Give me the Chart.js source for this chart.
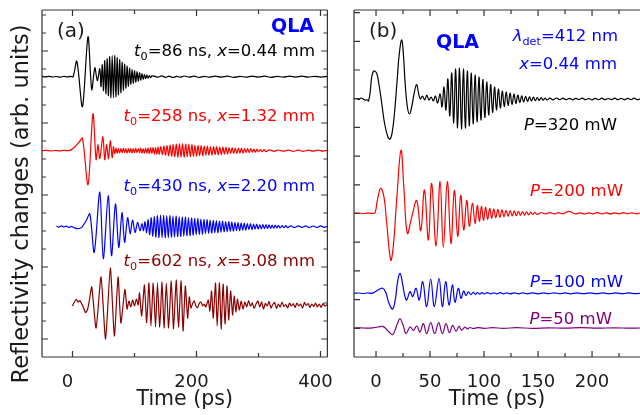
<!DOCTYPE html>
<html>
<head>
<meta charset="UTF-8">
<title>QLA reflectivity changes</title>
<script src="https://cdn.jsdelivr.net/npm/chart.js"></script>
<style>
  body { margin: 0; background: #fff; }
  #wrap { position: relative; width: 640px; height: 415px; overflow: hidden; }
  canvas { position: absolute; top: 0; }
</style>
</head>
<body>
<div id="wrap">
  <canvas id="chartA" width="345" height="415" style="left:0"></canvas>
  <canvas id="chartB" width="300" height="415" style="left:340px"></canvas>
</div>
<script>
// ---- panel (a): [time (ps), signal] per position, signals offset for display
const traceA86 = [[-49.2,0.3],[-44,-0.2],[-38,0.4],[-32,-0.3],[-26,0.2],[-20,-0.4],[-14,0.3],[-8,-0.2],[-3,0.3],[1,0],[7,15.5],[16,-30],[25,40],[31,-13],[36,9],[40,-4],
  [44,8],[46,-10],[48,12],[50,-14],[52,16],[54,-17],[56,18],[58,-19],[60,20],[62,-21],[64,21],[66,-21],[68,21],[70,-20],[72,19],[74,-18],[76,17],[78,-16],[80,14.5],[82,-13.5],[84,12.5],[86,-11.5],[88,10.5],[90,-9.5],[92,8.5],[94,-7.5],[96,7],[98,-6.5],[100,6],[102,-5.5],[104,5],[106,-4.5],[108,4],[110,-3.5],[112,3],[114,-2.6],[116,2.2],[118,-2],[120,1.6],[122,-1.4],[124,1.2],[126,-1],[128,0.8],
  [132,0.6],[138,-0.5],[144,0.8],[150,-0.6],[156,0.5],[162,-0.8],[168,0.4],[174,-0.5],[180,0.7],[188,-0.4],[196,0.6],[204,-0.7],[212,0.4],[220,-0.5],[230,0.6],[240,-0.4],[250,0.5],[260,-0.6],[270,0.4],[280,-0.5],[290,0.6],[300,-0.4],[310,0.5],[320,-0.6],[330,0.4],[340,-0.5],[350,0.5],[360,-0.4],[370,0.5],[380,-0.5],[390,0.4],[400,-0.4],[411.1,0.3]];

const traceA258 = [[-49.2,0],[-42,0.3],[-35,-0.3],[-28,0.2],[-21,-0.2],[-14,0.3],[-8,0],[-4,0.3],[4,4],[10,8],[16,12.5],[25,-34],[33,37],[38,-9],[41,6],[44,-8],[49,14],[52,-9],[55,6],[58,-8],[61,10],[64,-7],[66,4],
  [68,-3],[70,2.5],[72,-2.5],[74,2],[76,-2.5],[78,2],[80,-2],[82,2.5],[84,-2],[86,2],[88,-2.5],[90,2],[92,-2],[94,2],[96,-2.5],[98,2],[100,-2],[102,2.5],[104,-2],[106,2],[108,-2],[110,2.5],[112,-2.5],[114,2],[116,-2.5],[118,2.5],[120,-2.5],[122,2.5],[124,-3],[126,3],[128,-3],[130,3],[132,-3.5],[134,3],[136,-3.5],[138,3.5],[140,-3.5],
  [142.5,4],[145,-4],[147.5,4.5],[150,-4.5],[152.5,5],[155,-5],[157.5,5.5],[160,-5.5],[162.5,6],[165,-6],[167.5,6.5],[170,-6.5],[172.5,7],[175,-6.5],[177.5,7],[180,-6.5],[182.5,6.5],[185,-6],[187.5,6.5],[190,-6],[192.5,6],[195,-5.5],[197.5,5.5],[200,-5.5],[202.5,5],[205,-5],[207.5,5],[210,-5],[212.5,4.5],[215,-4.5],[217.5,4.5],[220,-4.5],[222.5,4],[225,-4.5],[227.5,4],[230,-4],[232.5,4],[235,-4],[237.5,3.5],[240,-4],[242.5,3.5],[245,-3.5],[247.5,3.5],[250,-3.5],[252.5,3],[255,-3],[257.5,3],[260,-3],[262.5,2.5],[265,-3],[267.5,2.5],[270,-2.5],[272.5,2.5],[275,-2.5],[277.5,2],[280,-2],[282.5,2],[285,-2],[287.5,2],[290,-1.5],[292.5,1.5],[295,-1.5],[297.5,1.5],[300,-1.2],[303,1.2],[306,-1],[309,1],[312,-1],
  [318,0.8],[325,-0.6],[332,0.7],[340,-0.5],[348,0.6],[356,-0.6],[364,0.5],[372,-0.6],[380,0.5],[388,-0.5],[396,0.6],[404,-0.4],[411.1,0.3]];

const traceA430 = [[-26,0.5],[-22,-0.5],[-18,0.8],[-14,-0.3],[-10,0.6],[-6,-0.8],[-2,0.3],[2,-0.8],[8,-2],[14,-1],[18,2],[22,6],[28,12.7],[35,-25.7],[44,34.6],[49.7,-32],[57.6,31],[62.9,-29],[69.3,22.7],[74.6,-20.7],[79.9,14],[84,-15.7],[88.9,9],[93,-7],[96.8,6.7],[101,-5.7],[105,4.3],[109,-4],
  [112,3],[114.5,-4],[117,5],[119.5,-6],[122,7],[124.5,-8],[127,9],[129.5,-9.5],[132,10],[134.5,-10.5],[137,11],[139.5,-11],[142,11.5],[144.5,-11],[147,11.5],[149.5,-11],[152,11],[154.5,-11],[157,11],[159.5,-10.5],[162,10.5],[164.5,-10.5],[167,10.5],[169.5,-10],[172,10],[174.5,-10],[177,9.5],[179.5,-9.5],[182,9.5],[184.5,-9],[187,9],[189.5,-9],[192,8.5],[194.5,-8.5],[197,8],[199.5,-8],[202,8],[204.5,-7.5],[207,7.5],[209.5,-7.5],[212,7],[214.5,-7],[217,7],[219.5,-6.5],[222,6.5],[224.5,-6.5],[227,6],[229.5,-6],[232,6],[234.5,-6],[237,5.5],[239.5,-5.5],[242,5.5],[244.5,-5],[247,5],[249.5,-5],[252,5],[254.5,-4.5],[257,4.5],[259.5,-4.5],[262,4],[264.5,-4],[267,4],[269.5,-4],[272,3.5],[274.5,-3.5],[277,3.5],[279.5,-3.5],[282,3],[284.5,-3],[287,3],[289.5,-3],[292,2.5],[294.5,-2.5],[297,2.5],[299.5,-2.5],[302,2.2],[304.5,-2.2],[307,2],[309.5,-2],[312,2],[314.5,-1.8],[317,1.8],[319.5,-1.6],[322,1.6],[324.5,-1.5],[327,1.5],[329.5,-1.4],[332,1.3],[335,-1.2],[338,1.2],[341,-1],[344,1],[347,-1],
  [352,0.8],[358,-0.8],[364,0.9],[370,-0.7],[376,0.8],[382,-0.8],[388,0.7],[394,-0.8],[400,0.8],[406,-0.6],[411.1,0.5]];

const traceA602 = [[0,-1],[3,3],[6,5.7],[9,3],[12,4.5],[15,1],[18,-3],[21,-7.7],[24,-5],[27,4],[31,18],[38,-23],[46,28],[53.3,-34],[61,37],[67.5,-31],[73.5,28],[78,-18],[84.5,15.5],[88,-4],[91,4],[94,-2],[97,5],[100,-1],[103,6],[106,0],
  [108,12],[111.6,-11],[116,20],[119.6,-17.7],[123.3,22],[126.5,-21],[130.2,22],[133.9,-22],[137,22],[140.7,-22],[144.4,23],[147.6,-23],[151.3,22],[155,-23],[159.3,24],[163,-24],[167.2,25],[170.9,-22],[175.1,24],[178.3,-26],[182,19],[185.7,-13],[188.4,8],
  [191,-3],[194,2],[196.5,4],[199,-1],[201.5,-3],[204,1],[207,3],[210,-1],[212.5,1],[215,-2],
  [219,5],[221.5,-6],[224.3,14],[227,-13],[230.7,22],[233.3,-21],[237,22],[239.7,-24],[242.9,21],[246,-19],[249.2,19],[251.9,-15],[255,14],[258.2,-10],[260.8,9],[263.5,-7],[266,6],[269,-5],[272,4],[275,-4],
  [278,3],[281,-2],[284,4.5],[287,-1],[290,2],[293,-3.5],[296,1],[299,4],[302,-2],[305,3],[308,-4],[311,1.5],[314,-1],[317,3.5],[320,-3],[323,0.5],[326,2.5],[329,-3.5],[332,1],[335,-2],[338,3],[341,-1.5],[344,0.5],[347,-3],[350,2],[353,-1],[356,1.5],[359,-2.5],[362,2],[365,-1],[368,1],[371,-3],[374,2.5],[377,-0.5],[380,1.5],[383,-2.5],[386,1],[389,-1.5],[392,2],[395,-2],[398,1],[401,-2.5],[404,1.5],[407,-1],[411.1,0.5]];

const offsetsA = [280.3, 206.3, 130.3, 52];

// ---- panel (b): [time (ps), signal] per pump power
const traceB320 = [[-20.4,0],[-18,0.5],[-16,-0.5],[-14,1],[-12,0],[-10,-1],[-8,-1],[-7,-2],[-5.5,6],[-4,22],[-2,28],[0.5,26],[2.5,16],[5,-2],[8,-25],[11,-38],[13,-40],[15,-33],[17,-15],[19.5,18],[21.5,45],[23.8,59],[25.5,42],[27,15],[29,-8],[31,-15],[33,-8],[35,4],[37.5,14.5],[39.5,5],[41,0],
  [43,3],[45,-1],[47,4],[49,-1],[51,2],[53,-2],[55,3],[57,-4],
  [59.3,5],[61.1,-8],[62.9,12],[64.7,-11],[66.5,20],[68.3,-17],[70.1,26],[71.9,-24],[73.7,30],[75.5,-29],[77.3,31],[79.1,-30],[80.9,30],[82.7,-29],[84.5,28],[86.3,-27],[88.1,26],[89.9,-25],[91.7,24],[93.5,-23],[95.3,22],[97.1,-21],[98.9,19.5],[100.7,-18.5],[102.5,17],[104.3,-16],[106.1,14.5],[107.9,-13.5],[109.7,12],[111.5,-11],[113.3,10],[115.1,-9],[116.9,8],[118.7,-7.5],[120.5,7],[122.3,-6.5],[124.1,6],[125.9,-5.5],[127.7,5],[129.5,-4.5],[131.3,4],[133.1,-3.5],[134.9,3.2],[136.7,-3],[138.5,2.7],[140.3,-2.5],[142.1,2.2],[143.9,-2],[145.7,1.8],[147.5,-1.7],[149.3,1.5],[151.1,-1.4],[152.9,1.3],[154.7,-1.2],[156.5,1],[158.3,-1],
  [161,0.8],[164,-0.8],[167,1],[170,-0.6],[173,0.8],[176,-0.7],[179,0.6],[182,-0.8],[185,0.7],[188,-0.5],[191,0.8],[194,-0.7],[197,0.5],[200,-0.8],[203,0.7],[206,-0.6],[209,0.8],[212,-0.7],[215,0.5],[218,-0.6],[221,0.8],[224,-0.7],[227,0.6],[230,-0.8],[233,0.7],[236,-0.6],[239,0.8],[242,-0.7],[244.4,0.3]];

const traceB200 = [[-20.4,0],[-16,0.3],[-12,-0.2],[-8,0.2],[-4,0],[-1,0.5],[1.2,13],[4.3,25],[7.4,16],[9.9,-10],[13.6,-46.7],[16,-33],[19.1,13],[23.1,63],[25.9,23],[29,-20],[33,-4],[37.7,12.7],[41.4,-17.3],[44.8,23.3],[48.5,-26.7],[51.5,30],[55.6,-32.7],[59.3,31.7],[62.3,-34],[66,31.7],[69.4,-30],[72.5,23],[75.6,-23],[78.4,18],[81.2,-16.7],[84,13],[86.4,-13],[89.2,10],[91.7,-10],
  [93.8,8],[95.7,-8],[97.6,7],[99.5,-7],[101.4,6],[103.3,-6],[105.2,5],[107.1,-5],[109,4.5],[110.9,-4.5],[112.8,4],[114.7,-4],[116.6,3.5],[118.5,-3.5],[120.4,3],[122.3,-3],[124.2,2.7],[126.1,-2.7],[128,2.4],[129.9,-2.4],[131.8,2],[133.7,-2],[135.6,1.8],[137.5,-1.8],[139.4,1.5],[141.3,-1.5],[143.2,1.3],[145.1,-1.2],[147,1],[149,-1],
  [153,0.8],[157,-0.6],[161,0.7],[165,-0.5],[169,0.6],[173,-0.4],[176,1],[179,2],[182,0.5],[185,-0.6],[189,0.5],[193,-0.7],[197,0.4],[201,-0.5],[205,0.6],[209,-0.5],[213,0.5],[217,-0.6],[221,0.4],[225,-0.5],[229,0.6],[233,-0.4],[237,0.5],[241,-0.5],[244.4,0.3]];

const traceB100 = [[-20.4,0],[-16,0.3],[-12,-0.2],[-8,0.3],[-4,0],[0,2],[3,4],[6.2,5],[9,1],[12,-10],[15.4,-15.7],[18,-5],[20,12],[22.2,20],[24.5,10],[26.5,-2],[28.4,-6.7],[31.5,1.7],[34,-3.3],[37,5],[40,-6.7],[43.2,11.7],[46.9,-13.3],[50.6,14.3],[54,-13.3],[58.3,15],[61.4,-13.3],[64.5,11.7],[67.6,-11.7],[70.7,8.3],[73.1,-9],[76.2,5],[78.7,-5],[81.1,2.3],[83.3,-2.3],[85.5,1.5],[87.7,-1.3],[90,1],[92,-1],[94,0.8],[96,-0.8],[98,0.7],[100,-0.7],
  [103,0.6],[106,-0.6],[109,0.5],[112,-0.6],[115,0.6],[118,-0.5],[121,0.5],[124,-0.6],[128,0.5],[132,-0.5],[136,0.5],[140,-0.5],[145,0.4],[150,-0.5],[155,0.4],[160,-0.4],[165,0.5],[170,-0.4],[175,0.4],[180,-0.5],[186,0.4],[192,-0.4],[198,0.4],[204,-0.4],[210,0.4],[216,-0.4],[222,0.4],[228,-0.4],[234,0.4],[240,-0.4],[244.4,0]];

const traceB50 = [[-20.4,0],[-14,0.2],[-8,-0.2],[-2,0.3],[2,1],[6,1.7],[9,-0.5],[12,-4],[15.4,-6.7],[18,-1],[20,5],[22.2,9.3],[25,3],[27.8,-5.7],[31.5,1],[34.6,-2.3],[37.7,2],[40.7,-4],[43.8,4.3],[46.9,-5.7],[50.6,5.3],[54.3,-5.7],[58,5.3],[61.4,-5.7],[64.8,4.3],[67.9,-4.7],[71,2.7],[74.1,-3.3],[76.9,1.7],[79.3,-2.3],[82.4,1],[84.6,-1],[87,0.5],[90,-0.5],[94,0.4],[100,-0.3],[108,0.3],[118,-0.3],[130,0.3],[145,-0.3],[160,0.2],[175,-0.2],[190,0.3],[205,-0.2],[220,0.2],[235,-0.2],[244.4,0]];

const offsetsB = [258, 143.7, 63.7, 29];

const FONT = '"DejaVu Sans", Verdana, sans-serif';
const INK = '#1a1a1a';

const toPoints = (trace, off) => trace.map(([t, v]) => ({x: t, y: v + off}));

// rich text: italic / subscript pieces
function drawRich(ctx, parts, x, y, size, color, align) {
  const fontOf = p => (p.i ? 'italic ' : '') + (p.b ? 'bold ' : '') + (p.sub ? size * 0.68 : size) + 'px ' + FONT;
  let w = 0;
  for (const p of parts) { ctx.font = fontOf(p); w += ctx.measureText(p.t).width; }
  let cx = align === 'right' ? x - w : x;
  ctx.fillStyle = color;
  ctx.textAlign = 'left';
  ctx.textBaseline = 'middle';
  for (const p of parts) {
    ctx.font = fontOf(p);
    ctx.fillText(p.t, cx, p.sub ? y + size * 0.32 : y);
    cx += ctx.measureText(p.t).width;
  }
}

// frame, inward ticks and annotations
const framePlugin = {
  id: 'frame',
  afterDraw(chart, args, o) {
    const {ctx, chartArea: a} = chart;
    const xs = chart.scales.x, ys = chart.scales.y;
    ctx.save();
    ctx.strokeStyle = '#333';
    ctx.lineWidth = 1.2;
    ctx.beginPath();
    ctx.moveTo(a.left, a.top); ctx.lineTo(a.right, a.top);
    ctx.moveTo(a.left, a.bottom); ctx.lineTo(a.right, a.bottom);
    ctx.moveTo(a.left, a.top); ctx.lineTo(a.left, a.bottom);
    if (o.right) { ctx.moveTo(a.right, a.top); ctx.lineTo(a.right, a.bottom); }
    for (let v = o.xFrom; v <= xs.max; v += o.xStep) {
      const px = xs.getPixelForValue(v);
      const len = Math.abs(v % o.xMajor) < 1e-6 ? 6 : 4;
      ctx.moveTo(px, a.bottom); ctx.lineTo(px, a.bottom - len);
      ctx.moveTo(px, a.top); ctx.lineTo(px, a.top + len);
    }
    let k = 0;
    for (let v = o.yStep; v < ys.max - 1; v += o.yStep, k++) {
      const py = ys.getPixelForValue(v);
      const len = (k % o.yMajorEvery === 0) ? 6 : 4;
      ctx.moveTo(a.left, py); ctx.lineTo(a.left + len, py);
      if (o.right) { ctx.moveTo(a.right, py); ctx.lineTo(a.right - len, py); }
    }
    ctx.stroke();
    for (const lb of o.labels) drawRich(ctx, lb.parts, lb.x, lb.y, lb.size, lb.color, lb.align);
    if (o.yTitle) {
      ctx.translate(o.yTitle.x, o.yTitle.y);
      ctx.rotate(-Math.PI / 2);
      ctx.font = o.yTitle.size + 'px ' + FONT;
      ctx.fillStyle = INK;
      ctx.textAlign = 'center';
      ctx.textBaseline = 'middle';
      ctx.fillText(o.yTitle.text, 0, 0);
    }
    ctx.restore();
  }
};

function lineSet(trace, off, color, tension) {
  return {data: toPoints(trace, off), borderColor: color, borderWidth: 1.2, pointRadius: 0, tension: tension, fill: false};
}

function xScale(min, max, step, labelEvery, labelOffset) {
  return {
    type: 'linear', min: min, max: max,
    grid: {display: false}, border: {display: false},
    ticks: {stepSize: step, includeBounds: false, autoSkip: false, maxRotation: 0, padding: 7, labelOffset: labelOffset,
      font: {family: FONT, size: 18}, color: INK,
      callback: v => (Math.abs(v % labelEvery) < 1e-6 ? String(v) : '')},
    title: {display: true, text: 'Time (ps)', font: {family: FONT, size: 20.5}, color: INK, padding: {top: 0, bottom: 3}},
    afterFit: s => { s.height = 58; }
  };
}

new Chart(document.getElementById('chartA'), {
  type: 'line',
  data: {datasets: [
    lineSet(traceA86, offsetsA[0], '#000000', 0.3),
    lineSet(traceA258, offsetsA[1], '#ff0000', 0.3),
    lineSet(traceA430, offsetsA[2], '#0000ff', 0.3),
    lineSet(traceA602, offsetsA[3], '#8b0000', 0.2)
  ]},
  options: {
    responsive: false, animation: false,
    layout: {padding: {left: 42, right: 13, top: 10, bottom: 0}},
    plugins: {
      legend: {display: false}, tooltip: {enabled: false},
      frame: {
        right: true, xFrom: 0, xStep: 100, xMajor: 200, yStep: 18, yMajorEvery: 4,
        yTitle: {text: 'Reflectivity changes (arb. units)', x: 22, y: 204, size: 22.5},
        labels: [
          {parts: [{t: '(a)'}], x: 57, y: 32, size: 20, color: INK, align: 'left'},
          {parts: [{t: 'QLA', b: true}], x: 314, y: 27, size: 19, color: '#0000ff', align: 'right'},
          {parts: [{t: 't', i: true}, {t: '0', sub: true}, {t: '=86 ns, '}, {t: 'x', i: true}, {t: '=0.44 mm'}], x: 315, y: 52, size: 16.5, color: '#000000', align: 'right'},
          {parts: [{t: 't', i: true}, {t: '0', sub: true}, {t: '=258 ns, '}, {t: 'x', i: true}, {t: '=1.32 mm'}], x: 315, y: 117, size: 16.5, color: '#ff0000', align: 'right'},
          {parts: [{t: 't', i: true}, {t: '0', sub: true}, {t: '=430 ns, '}, {t: 'x', i: true}, {t: '=2.20 mm'}], x: 315, y: 187, size: 16.5, color: '#0000ff', align: 'right'},
          {parts: [{t: 't', i: true}, {t: '0', sub: true}, {t: '=602 ns, '}, {t: 'x', i: true}, {t: '=3.08 mm'}], x: 315, y: 262, size: 16.5, color: '#8b0000', align: 'right'}
        ]
      }
    },
    scales: {
      x: xScale(-49.2, 411.1, 100, 200, -5),
      y: {display: false, min: 0, max: 347}
    }
  },
  plugins: [framePlugin]
});

new Chart(document.getElementById('chartB'), {
  type: 'line',
  data: {datasets: [
    lineSet(traceB320, offsetsB[0], '#000000', 0.4),
    lineSet(traceB200, offsetsB[1], '#ff0000', 0.4),
    lineSet(traceB100, offsetsB[2], '#0000ff', 0.4),
    lineSet(traceB50, offsetsB[3], '#800080', 0.4)
  ]},
  options: {
    responsive: false, animation: false,
    layout: {padding: {left: 14, right: 0, top: 10, bottom: 0}},
    plugins: {
      legend: {display: false}, tooltip: {enabled: false},
      frame: {
        right: false, xFrom: 0, xStep: 25, xMajor: 50, yStep: 28.7, yMajorEvery: 1,
        labels: [
          {parts: [{t: '(b)'}], x: 29, y: 32, size: 20, color: INK, align: 'left'},
          {parts: [{t: 'QLA', b: true}], x: 96, y: 43, size: 19, color: '#0000ff', align: 'left'},
          {parts: [{t: 'λ', i: true}, {t: 'det', sub: true}, {t: '=412 nm'}], x: 278, y: 37, size: 16.5, color: '#0000ff', align: 'right'},
          {parts: [{t: 'x', i: true}, {t: '=0.44 mm'}], x: 277, y: 65, size: 16.5, color: '#0000ff', align: 'right'},
          {parts: [{t: 'P', i: true}, {t: '=320 mW'}], x: 277, y: 126, size: 16.5, color: '#000000', align: 'right'},
          {parts: [{t: 'P', i: true}, {t: '=200 mW'}], x: 283, y: 192, size: 16.5, color: '#ff0000', align: 'right'},
          {parts: [{t: 'P', i: true}, {t: '=100 mW'}], x: 283, y: 283, size: 16.5, color: '#0000ff', align: 'right'},
          {parts: [{t: 'P', i: true}, {t: '=50 mW'}], x: 272, y: 320, size: 16.5, color: '#800080', align: 'right'}
        ]
      }
    },
    scales: {
      x: xScale(-20.4, 244.4, 25, 50, 0),
      y: {display: false, min: 0, max: 347}
    }
  },
  plugins: [framePlugin]
});
</script>
</body>
</html>
